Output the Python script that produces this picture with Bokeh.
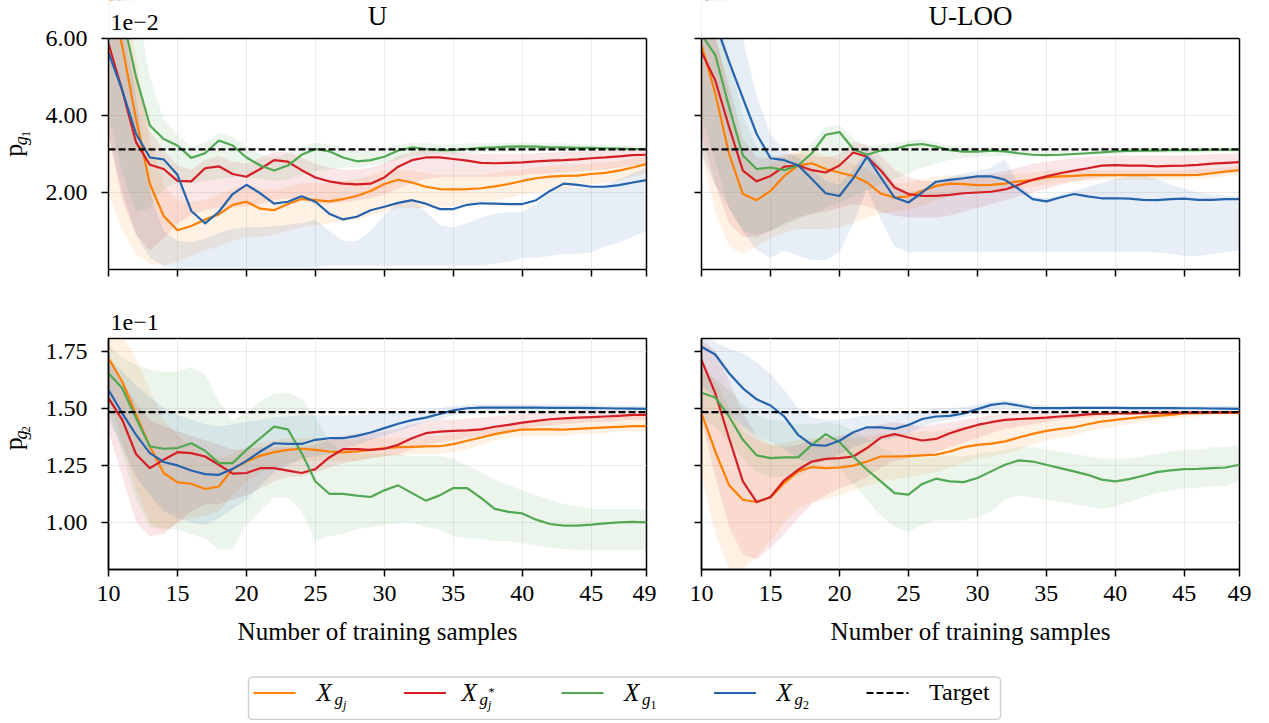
import math
from bokeh.plotting import figure
from bokeh.layouts import column, row
from bokeh.models import Range1d, FixedTicker, Span, BoxAnnotation, Label, LinearAxis
from bokeh.core.properties import value
from bokeh.embed import file_html
from bokeh.resources import INLINE

# ---------------- data (values shown in plot units: top x1e-2, bottom x1e-1) ----------------
samples = list(range(10, 50))
x_ticks = [10, 15, 20, 25, 30, 35, 40, 45, 49]
top_y_ticks = [2.0, 4.0, 6.0]
top_y_labels = ["2.00", "4.00", "6.00"]
bot_y_ticks = [1.0, 1.25, 1.5, 1.75]
bot_y_labels = ["1.00", "1.25", "1.50", "1.75"]
target_pg1 = 3.12
target_pg2 = 1.483
col_titles = ["U", "U-LOO"]
x_label = "Number of training samples"

# ---- p_g1, U ----
o_tl = [7.2, 5.8, 3.9, 2.22, 1.39, 1.02, 1.13, 1.30, 1.43, 1.68, 1.76, 1.58, 1.54, 1.70, 1.83, 1.80, 1.77, 1.83, 1.91, 2.04,
        2.22, 2.33, 2.26, 2.15, 2.09, 2.08, 2.09, 2.11, 2.16, 2.22, 2.30, 2.37, 2.41, 2.43, 2.44, 2.48, 2.51, 2.57, 2.65, 2.74]
o_tl_lo = [2.0, 1.0, 0.4, 0.15, 0.1, 0.2, 0.35, 0.5, 0.6, 0.75, 0.85, 0.85, 0.9, 1.0, 1.1, 1.15, 1.2, 1.25, 1.3, 1.4,
           1.5, 1.6, 1.6, 1.6, 1.6, 1.65, 1.7, 1.75, 1.8, 1.85, 1.95, 2.0, 2.05, 2.1, 2.15, 2.2, 2.25, 2.3, 2.4, 2.5]
o_tl_hi = [9.0, 7.5, 5.5, 3.3, 2.2, 1.8, 1.75, 1.8, 1.95, 2.1, 2.2, 2.1, 2.05, 2.15, 2.25, 2.25, 2.25, 2.3, 2.35, 2.45,
           2.55, 2.6, 2.55, 2.5, 2.45, 2.45, 2.45, 2.45, 2.5, 2.55, 2.6, 2.65, 2.7, 2.7, 2.72, 2.75, 2.78, 2.82, 2.88, 2.95]
r_tl = [5.87, 4.65, 3.30, 2.72, 2.61, 2.30, 2.29, 2.63, 2.68, 2.48, 2.41, 2.61, 2.84, 2.80, 2.58, 2.39, 2.29, 2.23, 2.21, 2.23,
        2.39, 2.67, 2.84, 2.91, 2.91, 2.87, 2.83, 2.77, 2.76, 2.77, 2.78, 2.81, 2.83, 2.84, 2.86, 2.89, 2.91, 2.94, 2.97, 2.98]
r_tl_lo = [3.5, 1.8, 0.9, 0.5, 0.8, 1.2, 1.4, 1.55, 1.6, 1.6, 1.65, 1.7, 1.8, 1.85, 1.8, 1.7, 1.7, 1.75, 1.8, 1.85,
           1.95, 2.1, 2.25, 2.35, 2.4, 2.4, 2.4, 2.4, 2.4, 2.42, 2.45, 2.48, 2.5, 2.52, 2.55, 2.58, 2.6, 2.65, 2.7, 2.75]
r_tl_hi = [7.5, 6.5, 5.0, 3.6, 3.1, 2.7, 2.6, 2.85, 2.95, 2.8, 2.75, 2.9, 3.05, 3.05, 2.9, 2.75, 2.65, 2.6, 2.6, 2.65,
           2.75, 2.95, 3.05, 3.1, 3.1, 3.05, 3.02, 3.0, 3.0, 3.0, 3.0, 3.02, 3.04, 3.05, 3.06, 3.08, 3.1, 3.11, 3.12, 3.12]
g_tl = [8.5, 6.6, 5.0, 3.74, 3.39, 3.22, 2.90, 3.02, 3.35, 3.22, 2.91, 2.70, 2.57, 2.70, 2.98, 3.13, 3.07, 2.91, 2.81, 2.84,
        2.93, 3.09, 3.17, 3.13, 3.10, 3.10, 3.13, 3.16, 3.17, 3.19, 3.20, 3.19, 3.17, 3.17, 3.16, 3.16, 3.15, 3.14, 3.13, 3.13]
g_tl_lo = [4.0, 2.5, 1.5, 1.6, 2.1, 2.25, 2.25, 2.3, 2.35, 2.4, 2.4, 2.35, 2.3, 2.35, 2.45, 2.55, 2.6, 2.65, 2.65, 2.7,
           2.75, 2.85, 2.95, 2.98, 3.0, 3.0, 3.02, 3.04, 3.05, 3.06, 3.07, 3.07, 3.07, 3.07, 3.07, 3.07, 3.07, 3.07, 3.08, 3.08]
g_tl_hi = [9.5, 8.5, 7.0, 5.0, 3.9, 3.5, 3.2, 3.3, 3.55, 3.45, 3.2, 3.0, 2.9, 3.0, 3.2, 3.3, 3.25, 3.15, 3.1, 3.1,
           3.15, 3.25, 3.3, 3.28, 3.25, 3.25, 3.27, 3.28, 3.28, 3.29, 3.3, 3.29, 3.28, 3.27, 3.26, 3.25, 3.24, 3.23, 3.22, 3.22]
b_tl = [5.63, 4.65, 3.52, 2.91, 2.86, 2.46, 1.52, 1.20, 1.50, 1.96, 2.20, 1.98, 1.71, 1.76, 1.90, 1.76, 1.45, 1.30, 1.37, 1.54,
        1.63, 1.73, 1.80, 1.71, 1.57, 1.57, 1.68, 1.72, 1.71, 1.70, 1.70, 1.80, 2.04, 2.23, 2.20, 2.15, 2.15, 2.19, 2.26, 2.32]
b_tl_lo = [3.5, 2.0, 0.9, 0.3, 0.1, 0.05, 0.05, 0.05, 0.05, 0.05, 0.05, 0.05, 0.05, 0.05, 0.05, 0.08, 0.1, 0.1, 0.1, 0.1,
           0.1, 0.1, 0.1, 0.1, 0.1, 0.1, 0.1, 0.1, 0.15, 0.2, 0.3, 0.3, 0.35, 0.4, 0.4, 0.45, 0.6, 0.7, 0.85, 1.0]
b_tl_hi = [7.5, 6.5, 4.5, 2.0, 1.0, 0.75, 0.7, 0.8, 0.95, 1.05, 1.1, 1.1, 1.12, 1.17, 1.2, 1.3, 1.0, 0.74, 0.74, 1.0,
           1.4, 1.75, 1.83, 1.5, 1.15, 1.09, 1.2, 1.35, 1.45, 1.5, 1.48, 1.7, 2.04, 2.13, 2.13, 2.13, 2.2, 2.35, 2.5, 2.65]

# ---- p_g1, U-LOO ----
o_tr = [5.83, 4.57, 3.0, 1.96, 1.80, 2.04, 2.43, 2.70, 2.76, 2.61, 2.52, 2.43, 2.26, 1.97, 1.87, 1.90, 2.04, 2.17, 2.23, 2.22,
        2.19, 2.20, 2.23, 2.29, 2.32, 2.39, 2.42, 2.43, 2.45, 2.45, 2.45, 2.45, 2.45, 2.45, 2.45, 2.45, 2.46, 2.50, 2.54, 2.58]
o_tr_lo = [3.0, 1.5, 0.6, 0.4, 0.6, 0.8, 0.95, 1.05, 1.05, 1.05, 1.1, 1.2, 1.35, 1.45, 1.5, 1.55, 1.65, 1.8, 1.9, 1.95,
           2.0, 2.02, 2.05, 2.1, 2.15, 2.2, 2.25, 2.28, 2.3, 2.32, 2.32, 2.33, 2.33, 2.33, 2.33, 2.33, 2.35, 2.38, 2.42, 2.46]
o_tr_hi = [7.5, 6.2, 4.5, 3.0, 2.6, 2.7, 2.95, 3.1, 3.1, 2.95, 2.85, 2.75, 2.6, 2.35, 2.25, 2.25, 2.35, 2.42, 2.45, 2.45,
           2.42, 2.42, 2.45, 2.5, 2.52, 2.56, 2.58, 2.58, 2.58, 2.58, 2.58, 2.58, 2.58, 2.58, 2.58, 2.58, 2.6, 2.62, 2.65, 2.7]
r_tr = [5.65, 4.91, 3.70, 2.57, 2.29, 2.43, 2.67, 2.70, 2.58, 2.52, 2.70, 3.04, 2.93, 2.57, 2.13, 1.96, 1.91, 1.91, 1.94, 1.98,
        2.00, 2.02, 2.08, 2.20, 2.33, 2.42, 2.50, 2.57, 2.63, 2.70, 2.71, 2.70, 2.70, 2.68, 2.69, 2.70, 2.72, 2.75, 2.77, 2.79]
r_tr_lo = [3.5, 2.2, 1.2, 0.85, 0.85, 1.0, 1.2, 1.35, 1.45, 1.5, 1.6, 1.7, 1.65, 1.5, 1.4, 1.35, 1.35, 1.35, 1.4, 1.5,
           1.6, 1.7, 1.8, 1.9, 2.0, 2.1, 2.2, 2.3, 2.35, 2.4, 2.42, 2.43, 2.44, 2.45, 2.46, 2.48, 2.5, 2.52, 2.55, 2.58]
r_tr_hi = [7.0, 6.0, 4.8, 3.4, 2.9, 2.9, 3.0, 3.0, 2.95, 2.9, 3.0, 3.3, 3.25, 2.95, 2.6, 2.4, 2.3, 2.3, 2.35, 2.4,
           2.45, 2.5, 2.55, 2.65, 2.75, 2.8, 2.85, 2.9, 2.93, 2.95, 2.96, 2.96, 2.96, 2.96, 2.96, 2.97, 2.98, 3.0, 3.0, 3.02]
g_tr = [6.1, 5.57, 4.22, 2.96, 2.61, 2.65, 2.58, 2.70, 3.02, 3.50, 3.57, 3.13, 2.98, 3.09, 3.13, 3.23, 3.26, 3.19, 3.10, 3.06,
        3.06, 3.09, 3.07, 3.02, 2.98, 2.97, 2.98, 3.00, 3.02, 3.04, 3.07, 3.08, 3.09, 3.09, 3.10, 3.10, 3.10, 3.11, 3.11, 3.11]
g_tr_lo = [4.0, 2.8, 1.6, 1.0, 0.9, 1.0, 1.15, 1.3, 1.45, 1.6, 1.75, 1.9, 2.05, 2.2, 2.35, 2.5, 2.65, 2.75, 2.85, 2.9,
           2.92, 2.94, 2.95, 2.95, 2.95, 2.95, 2.96, 2.97, 2.98, 2.99, 3.0, 3.01, 3.02, 3.02, 3.03, 3.03, 3.04, 3.04, 3.05, 3.05]
g_tr_hi = [8.0, 7.0, 5.5, 4.0, 3.2, 3.0, 2.9, 3.0, 3.3, 3.7, 3.75, 3.4, 3.2, 3.25, 3.28, 3.35, 3.38, 3.3, 3.22, 3.18,
           3.17, 3.18, 3.17, 3.14, 3.12, 3.12, 3.12, 3.13, 3.14, 3.15, 3.16, 3.16, 3.16, 3.16, 3.16, 3.16, 3.16, 3.16, 3.16, 3.16]
b_tr = [7.4, 6.4, 5.4, 4.45, 3.52, 2.89, 2.84, 2.71, 2.35, 1.98, 1.91, 2.37, 2.93, 2.39, 1.87, 1.74, 2.00, 2.28, 2.33, 2.37,
        2.42, 2.42, 2.33, 2.09, 1.83, 1.77, 1.87, 1.96, 1.90, 1.85, 1.85, 1.84, 1.81, 1.80, 1.83, 1.84, 1.81, 1.81, 1.83, 1.83]
b_tr_lo = [3.0, 2.2, 1.6, 1.0, 0.5, 0.3, 0.5, 0.35, 0.25, 0.25, 0.45, 1.2, 2.1, 1.3, 0.6, 0.45, 0.45, 0.45, 0.45, 0.45,
           0.45, 0.45, 0.45, 0.45, 0.45, 0.45, 0.45, 0.45, 0.45, 0.45, 0.45, 0.45, 0.45, 0.45, 0.4, 0.35, 0.35, 0.4, 0.45, 0.5]
b_tr_hi = [9.0, 8.0, 7.0, 6.0, 4.5, 3.5, 3.1, 2.9, 2.6, 2.3, 2.2, 2.6, 3.1, 2.7, 2.2, 2.0, 2.1, 2.3, 2.4, 2.5,
           2.55, 2.65, 2.87, 2.2, 1.9, 1.85, 1.95, 2.05, 2.15, 2.25, 2.35, 2.42, 2.45, 2.35, 2.2, 2.1, 2.0, 1.95, 1.92, 1.9]

# ---- p_g2, U ----
o_bl = [1.718, 1.616, 1.471, 1.333, 1.217, 1.176, 1.170, 1.147, 1.158, 1.235, 1.267, 1.292, 1.308, 1.318, 1.323, 1.318, 1.311, 1.307, 1.311, 1.318,
        1.326, 1.330, 1.331, 1.333, 1.334, 1.343, 1.358, 1.372, 1.387, 1.398, 1.407, 1.408, 1.408, 1.407, 1.410, 1.413, 1.416, 1.419, 1.422, 1.422]
o_bl_lo = [1.55, 1.35, 1.15, 1.0, 0.96, 1.0, 1.02, 1.03, 1.05, 1.12, 1.18, 1.22, 1.24, 1.26, 1.27, 1.27, 1.27, 1.27, 1.27, 1.28,
           1.29, 1.29, 1.30, 1.30, 1.30, 1.31, 1.32, 1.34, 1.36, 1.37, 1.38, 1.38, 1.38, 1.38, 1.39, 1.39, 1.39, 1.40, 1.40, 1.40]
o_bl_hi = [1.85, 1.82, 1.72, 1.58, 1.45, 1.38, 1.34, 1.3, 1.28, 1.3, 1.33, 1.35, 1.36, 1.37, 1.37, 1.37, 1.36, 1.36, 1.36, 1.37,
           1.37, 1.37, 1.37, 1.38, 1.38, 1.39, 1.40, 1.41, 1.42, 1.43, 1.44, 1.445, 1.45, 1.45, 1.455, 1.46, 1.46, 1.465, 1.47, 1.47]
r_bl = [1.544, 1.449, 1.299, 1.238, 1.275, 1.308, 1.304, 1.289, 1.253, 1.214, 1.217, 1.238, 1.238, 1.227, 1.217, 1.234, 1.285, 1.321, 1.321, 1.318,
        1.323, 1.340, 1.369, 1.391, 1.398, 1.401, 1.403, 1.408, 1.419, 1.427, 1.437, 1.445, 1.452, 1.456, 1.459, 1.461, 1.464, 1.467, 1.471, 1.471]
r_bl_lo = [1.4, 1.2, 1.0, 0.94, 0.95, 1.0, 1.05, 1.08, 1.08, 1.1, 1.12, 1.15, 1.18, 1.2, 1.2, 1.22, 1.24, 1.26, 1.27, 1.28,
           1.29, 1.30, 1.32, 1.34, 1.35, 1.36, 1.37, 1.38, 1.39, 1.40, 1.41, 1.42, 1.425, 1.43, 1.435, 1.44, 1.44, 1.445, 1.45, 1.45]
r_bl_hi = [1.70, 1.62, 1.52, 1.45, 1.42, 1.40, 1.38, 1.36, 1.34, 1.32, 1.32, 1.33, 1.33, 1.33, 1.33, 1.34, 1.36, 1.38, 1.39, 1.39,
           1.40, 1.41, 1.43, 1.44, 1.45, 1.45, 1.455, 1.46, 1.465, 1.47, 1.475, 1.48, 1.485, 1.485, 1.49, 1.49, 1.49, 1.49, 1.49, 1.49]
g_bl = [1.653, 1.587, 1.456, 1.333, 1.323, 1.326, 1.347, 1.314, 1.260, 1.260, 1.318, 1.369, 1.420, 1.408, 1.304, 1.180, 1.126, 1.126, 1.118, 1.112,
        1.141, 1.163, 1.129, 1.096, 1.119, 1.151, 1.151, 1.108, 1.060, 1.047, 1.040, 1.013, 0.994, 0.987, 0.987, 0.991, 0.997, 1.001, 1.003, 1.001]
g_bl_lo = [1.5, 1.3, 1.1, 0.98, 0.975, 0.97, 0.95, 0.93, 0.88, 0.885, 0.99, 1.05, 1.11, 1.11, 1.05, 0.92, 0.94, 0.95, 0.97, 0.98,
           0.99, 1.0, 1.0, 0.98, 0.97, 0.94, 0.93, 0.93, 0.92, 0.92, 0.91, 0.9, 0.89, 0.885, 0.88, 0.88, 0.88, 0.88, 0.88, 0.88]
g_bl_hi = [1.78, 1.72, 1.69, 1.67, 1.66, 1.66, 1.68, 1.65, 1.53, 1.45, 1.48, 1.53, 1.565, 1.57, 1.54, 1.46, 1.355, 1.31, 1.30, 1.30,
           1.30, 1.30, 1.29, 1.29, 1.29, 1.28, 1.25, 1.22, 1.19, 1.165, 1.14, 1.12, 1.10, 1.08, 1.07, 1.06, 1.06, 1.06, 1.06, 1.06]
b_bl = [1.580, 1.478, 1.384, 1.304, 1.265, 1.250, 1.228, 1.212, 1.209, 1.235, 1.270, 1.311, 1.347, 1.344, 1.344, 1.362, 1.369, 1.369, 1.379, 1.394,
        1.413, 1.432, 1.448, 1.459, 1.475, 1.491, 1.500, 1.503, 1.503, 1.503, 1.503, 1.503, 1.502, 1.502, 1.502, 1.501, 1.500, 1.499, 1.498, 1.497]
b_bl_lo = [1.45, 1.33, 1.2, 1.12, 1.05, 1.02, 1.0, 0.99, 1.02, 1.06, 1.1, 1.16, 1.22, 1.25, 1.28, 1.29, 1.3, 1.32, 1.34, 1.36,
           1.38, 1.4, 1.42, 1.44, 1.45, 1.47, 1.48, 1.485, 1.485, 1.485, 1.485, 1.486, 1.486, 1.486, 1.486, 1.486, 1.486, 1.486, 1.486, 1.486]
b_bl_hi = [1.72, 1.66, 1.6, 1.55, 1.5, 1.47, 1.45, 1.43, 1.42, 1.43, 1.44, 1.45, 1.46, 1.465, 1.47, 1.47, 1.47, 1.47, 1.47, 1.475,
           1.48, 1.485, 1.49, 1.495, 1.5, 1.51, 1.515, 1.518, 1.518, 1.518, 1.518, 1.517, 1.517, 1.516, 1.515, 1.514, 1.513, 1.512, 1.511, 1.51]

# ---- p_g2, U-LOO ----
o_br = [1.478, 1.311, 1.163, 1.100, 1.090, 1.110, 1.173, 1.224, 1.243, 1.238, 1.241, 1.249, 1.267, 1.289, 1.289, 1.291, 1.294, 1.297, 1.311, 1.330,
        1.340, 1.345, 1.355, 1.372, 1.388, 1.401, 1.410, 1.417, 1.430, 1.442, 1.449, 1.456, 1.462, 1.467, 1.471, 1.477, 1.479, 1.480, 1.480, 1.480]
o_br_lo = [1.2, 0.95, 0.80, 0.80, 0.85, 0.92, 1.0, 1.06, 1.09, 1.1, 1.12, 1.14, 1.16, 1.18, 1.19, 1.2, 1.21, 1.22, 1.24, 1.26,
           1.28, 1.29, 1.3, 1.32, 1.34, 1.36, 1.37, 1.38, 1.4, 1.41, 1.42, 1.43, 1.44, 1.45, 1.455, 1.46, 1.465, 1.47, 1.47, 1.47]
o_br_hi = [1.70, 1.62, 1.50, 1.40, 1.36, 1.34, 1.35, 1.36, 1.37, 1.37, 1.37, 1.37, 1.38, 1.39, 1.39, 1.39, 1.4, 1.4, 1.41, 1.42,
           1.43, 1.435, 1.44, 1.45, 1.46, 1.465, 1.47, 1.475, 1.48, 1.485, 1.487, 1.488, 1.489, 1.49, 1.49, 1.49, 1.49, 1.49, 1.49, 1.49]
r_br = [1.711, 1.565, 1.369, 1.180, 1.090, 1.112, 1.185, 1.231, 1.267, 1.279, 1.282, 1.289, 1.326, 1.372, 1.387, 1.372, 1.359, 1.366, 1.391, 1.410,
        1.427, 1.439, 1.449, 1.453, 1.456, 1.459, 1.464, 1.468, 1.473, 1.476, 1.477, 1.478, 1.479, 1.479, 1.480, 1.481, 1.481, 1.482, 1.482, 1.483]
r_br_lo = [1.45, 1.2, 0.98, 0.86, 0.84, 0.89, 0.95, 1.02, 1.08, 1.12, 1.15, 1.17, 1.2, 1.24, 1.27, 1.28, 1.29, 1.31, 1.33, 1.35,
           1.37, 1.39, 1.41, 1.42, 1.43, 1.44, 1.45, 1.455, 1.46, 1.465, 1.47, 1.47, 1.475, 1.475, 1.477, 1.478, 1.479, 1.48, 1.48, 1.48]
r_br_hi = [1.80, 1.75, 1.62, 1.48, 1.38, 1.34, 1.33, 1.34, 1.36, 1.37, 1.38, 1.39, 1.41, 1.43, 1.44, 1.43, 1.42, 1.43, 1.44, 1.45,
           1.46, 1.47, 1.475, 1.48, 1.48, 1.482, 1.484, 1.485, 1.486, 1.487, 1.487, 1.487, 1.487, 1.487, 1.487, 1.487, 1.487, 1.487, 1.487, 1.487]
g_br = [1.568, 1.547, 1.464, 1.362, 1.294, 1.282, 1.285, 1.285, 1.340, 1.387, 1.352, 1.289, 1.231, 1.180, 1.129, 1.122, 1.169, 1.192, 1.180, 1.177,
        1.195, 1.224, 1.253, 1.272, 1.267, 1.253, 1.238, 1.224, 1.209, 1.188, 1.180, 1.190, 1.205, 1.221, 1.228, 1.234, 1.235, 1.238, 1.241, 1.253]
g_br_lo = [1.45, 1.42, 1.35, 1.28, 1.22, 1.20, 1.20, 1.20, 1.24, 1.27, 1.24, 1.17, 1.10, 1.03, 0.98, 0.96, 0.99, 1.01, 1.01, 1.01,
           1.02, 1.05, 1.10, 1.12, 1.11, 1.10, 1.09, 1.08, 1.07, 1.06, 1.07, 1.09, 1.11, 1.13, 1.14, 1.15, 1.15, 1.16, 1.16, 1.18]
g_br_hi = [1.66, 1.63, 1.58, 1.52, 1.47, 1.45, 1.44, 1.43, 1.43, 1.44, 1.43, 1.40, 1.37, 1.33, 1.30, 1.28, 1.28, 1.29, 1.29, 1.29,
           1.30, 1.31, 1.32, 1.33, 1.33, 1.32, 1.31, 1.30, 1.29, 1.28, 1.28, 1.28, 1.29, 1.30, 1.31, 1.32, 1.32, 1.33, 1.33, 1.34]
b_br = [1.769, 1.735, 1.653, 1.587, 1.539, 1.512, 1.464, 1.384, 1.340, 1.336, 1.358, 1.395, 1.417, 1.416, 1.410, 1.427, 1.453, 1.464, 1.467, 1.477,
        1.496, 1.515, 1.522, 1.512, 1.501, 1.501, 1.501, 1.502, 1.502, 1.502, 1.502, 1.501, 1.501, 1.501, 1.501, 1.500, 1.500, 1.499, 1.498, 1.497]
b_br_lo = [1.60, 1.55, 1.47, 1.42, 1.38, 1.35, 1.32, 1.28, 1.26, 1.27, 1.30, 1.33, 1.35, 1.36, 1.37, 1.39, 1.42, 1.44, 1.45, 1.46,
           1.475, 1.49, 1.5, 1.495, 1.49, 1.49, 1.49, 1.49, 1.49, 1.49, 1.49, 1.49, 1.49, 1.49, 1.49, 1.49, 1.49, 1.49, 1.49, 1.49]
b_br_hi = [1.82, 1.79, 1.76, 1.74, 1.70, 1.65, 1.58, 1.50, 1.46, 1.45, 1.45, 1.46, 1.47, 1.47, 1.47, 1.48, 1.49, 1.5, 1.5, 1.505,
           1.515, 1.53, 1.535, 1.525, 1.515, 1.512, 1.51, 1.51, 1.51, 1.51, 1.51, 1.51, 1.51, 1.51, 1.51, 1.51, 1.51, 1.51, 1.51, 1.51]

# ---------------- styling / layout constants ----------------
FONT = "Liberation Serif"
C_OR, C_RD, C_GR, C_BL = "#ff7f00", "#d51e24", "#52a852", "#2563ad"
TICK_PX = "24px"
FRAME_W, FRAME_H = 538, 231
TOP_PAD = 38          # space above the top panels' axes box, kept inside their frame
YSTRIP_W = 36
TOTAL_W = 1259
MID = 0.34            # em distance from a 'middle' text anchor down to its baseline

top_rng = (0.0, 6.0)
bot_rng = (0.795, 1.805)


def style_axis(ax):
    ax.axis_line_color = "black"
    ax.axis_line_width = 1.5
    ax.major_tick_line_color = "black"
    ax.major_tick_line_width = 1.5
    ax.major_tick_out = 7
    ax.major_tick_in = 0
    ax.minor_tick_line_color = None
    ax.major_label_text_font = FONT
    ax.major_label_text_font_size = TICK_PX
    ax.major_label_text_color = "black"


def make_panel(left_panel, top_row, y_rng, yt, ylab, target, series):
    mb_l, mb_r = (108 - YSTRIP_W, 10) if left_panel else (45, 20)
    mb_b = 20 if top_row else 40
    mb_t = 0 if top_row else 2
    frame_h = FRAME_H + (TOP_PAD if top_row else 0)
    y_end = y_rng[1] + (y_rng[1] - y_rng[0]) * TOP_PAD / FRAME_H if top_row else y_rng[1]
    p = figure(width=mb_l + FRAME_W + mb_r, height=mb_t + frame_h + mb_b,
               x_range=Range1d(10, 49), y_range=Range1d(y_rng[0], y_end),
               output_backend="svg", toolbar_location=None,
               min_border_left=mb_l, min_border_right=mb_r,
               min_border_top=mb_t, min_border_bottom=mb_b)
    p.background_fill_color = "white"
    p.border_fill_color = "white"
    p.xaxis.ticker = FixedTicker(ticks=x_ticks)
    p.yaxis.ticker = FixedTicker(ticks=yt)
    p.xgrid.ticker = FixedTicker(ticks=x_ticks)
    p.ygrid.ticker = FixedTicker(ticks=yt)
    p.grid.grid_line_color = "#ebebeb"
    p.grid.grid_line_width = 1
    style_axis(p.xaxis[0])
    style_axis(p.yaxis[0])
    p.xaxis.major_label_standoff = 9
    p.yaxis.major_label_standoff = 14
    if top_row:
        p.xaxis.major_label_overrides = {t: "" for t in x_ticks}
    if left_panel:
        p.yaxis.major_label_overrides = {t: l for t, l in zip(yt, ylab)}
    else:
        p.yaxis.major_label_overrides = {t: "" for t in yt}

    for (c, line, lo, hi) in series:
        p.varea(x=samples, y1=lo, y2=hi, fill_color=c, fill_alpha=0.11)
    for (c, line, lo, hi) in series:
        p.line(x=samples, y=line, line_color=c, line_width=2.2, line_join="round")

    if top_row:
        # the axes box ends at the top of the value range; blank the strip above it
        # with an opaque white block drawn after (on top of) the data glyphs
        p.quad(left=[10], right=[49], bottom=[y_rng[1]], top=[y_end],
               fill_color="white", fill_alpha=1.0, line_color=None)
        p.outline_line_color = None
        p.yaxis.bounds = y_rng
        p.add_layout(Span(location=y_rng[1], dimension="width", line_color="black",
                          line_width=1.5))
        right = LinearAxis(ticker=FixedTicker(ticks=[]), bounds=y_rng,
                           axis_line_color="black", axis_line_width=1.5,
                           major_tick_line_color=None, minor_tick_line_color=None)
        p.add_layout(right, "right")
    else:
        p.outline_line_color = "black"
        p.outline_line_width = 1.5
    p.add_layout(Span(location=target, dimension="width", line_color="black",
                      line_dash="7 3", line_width=2.2))
    return p


def panel_text(p, y_rng, frame_left, px, baseline_py, text, size, align="left"):
    """Text in the blank strip above a top panel; px/baseline_py are page pixels."""
    x = 10 + (px - frame_left) / FRAME_W * 39
    anchor = baseline_py - MID * size
    y = y_rng[1] + (TOP_PAD - anchor) / FRAME_H * (y_rng[1] - y_rng[0])
    p.add_layout(Label(x=x, y=y, text=text, text_font=FONT, text_font_size=f"{size}px",
                       text_align=align, text_baseline="middle", text_color="black"))


class Strip:
    """A blank figure whose data coordinates equal page pixels."""
    def __init__(self, w, h, page_left, page_top):
        self.fig = figure(width=w, height=h, x_range=Range1d(0, w), y_range=Range1d(0, h),
                          x_axis_type=None, y_axis_type=None, output_backend="svg",
                          toolbar_location=None, min_border=0)
        self.fig.outline_line_color = None
        self.fig.background_fill_color = "white"
        self.fig.border_fill_color = "white"
        self.l, self.t, self.h = page_left, page_top, h

    def X(self, px):
        return px - self.l

    def Y(self, py):
        return self.t + self.h - py

    def text(self, px, baseline_py, text, size, align="left", style="normal"):
        self.fig.text(x=[self.X(px)], y=[self.Y(baseline_py - MID * size)], text=[text],
                      text_font=value(FONT), text_font_size=value(f"{size}px"),
                      text_align=align, text_baseline="middle", text_color="black",
                      text_font_style=style)

    def vtext(self, baseline_px, start_py, text, size, style="normal"):
        self.fig.text(x=[self.X(baseline_px - MID * size)], y=[self.Y(start_py)], text=[text],
                      text_font=value(FONT), text_font_size=value(f"{size}px"),
                      text_align="left", text_baseline="middle", angle=math.pi / 2,
                      text_color="black", text_font_style=style)


tl = make_panel(True, True, top_rng, top_y_ticks, top_y_labels, target_pg1,
                [(C_OR, o_tl, o_tl_lo, o_tl_hi), (C_RD, r_tl, r_tl_lo, r_tl_hi),
                 (C_GR, g_tl, g_tl_lo, g_tl_hi), (C_BL, b_tl, b_tl_lo, b_tl_hi)])
tr = make_panel(False, True, top_rng, top_y_ticks, top_y_labels, target_pg1,
                [(C_OR, o_tr, o_tr_lo, o_tr_hi), (C_RD, r_tr, r_tr_lo, r_tr_hi),
                 (C_GR, g_tr, g_tr_lo, g_tr_hi), (C_BL, b_tr, b_tr_lo, b_tr_hi)])
bl = make_panel(True, False, bot_rng, bot_y_ticks, bot_y_labels, target_pg2,
                [(C_OR, o_bl, o_bl_lo, o_bl_hi), (C_RD, r_bl, r_bl_lo, r_bl_hi),
                 (C_GR, g_bl, g_bl_lo, g_bl_hi), (C_BL, b_bl, b_bl_lo, b_bl_hi)])
br = make_panel(False, False, bot_rng, bot_y_ticks, bot_y_labels, target_pg2,
                [(C_OR, o_br, o_br_lo, o_br_hi), (C_RD, r_br, r_br_lo, r_br_hi),
                 (C_GR, g_br, g_br_lo, g_br_hi), (C_BL, b_br, b_br_lo, b_br_hi)])

# column titles and offset text (inside the blank strip above the top panels)
panel_text(tl, top_rng, 108, 377, 25, col_titles[0], 27, align="center")
panel_text(tr, top_rng, 701, 970, 25, col_titles[1], 27, align="center")
panel_text(tl, top_rng, 108, 110, 30, "1e\u22122", 24)

# ---- y-label strips ----
ys_top = Strip(YSTRIP_W, 289, 0, 0)
ys_top.vtext(22, 168, "p", 26)
ys_top.vtext(26.5, 155.5, "g", 18, style="italic")
ys_top.vtext(29.5, 147, "1", 13)
ys_bot = Strip(YSTRIP_W, 273, 0, 336)
ys_bot.vtext(22, 468, "p", 26)
ys_bot.vtext(26.5, 455.5, "g", 18, style="italic")
ys_bot.vtext(29.5, 447, "2", 13)

# ---- gap strip (page y 289..336) ----
gs = Strip(TOTAL_W, 47, 0, 289)
gs.text(110, 330, "1e\u22121", 24)

# ---- bottom strip: x labels + legend (page y 609..720) ----
BH = 111
bs = Strip(TOTAL_W, BH, 0, 609)
bs.text(377, 639, x_label, 25, align="center")
bs.text(970, 639, x_label, 25, align="center")
bs.fig.add_layout(BoxAnnotation(left=248, right=1000, bottom=bs.Y(719), top=bs.Y(676.5),
                                fill_color="white", fill_alpha=1.0, line_color="#d0d0d0",
                                line_width=1.5, line_alpha=1.0, border_radius=4, level="underlay"))
legend_colors = [C_OR, C_RD, C_GR, C_BL]
legend_starts = [253, 403.5, 561, 713.5]
legend_text_x = [316, 461, 623.5, 776]
legend_sub2 = ["j", "j", "1", "2"]
sub_style = ["italic", "italic", "normal", "normal"]
line_py = 692.5
base = 700
for c, s in zip(legend_colors, legend_starts):
    bs.fig.line(x=[s, s + 42], y=[bs.Y(line_py)] * 2, line_color=c, line_width=2.2)
bs.fig.line(x=[866, 908], y=[bs.Y(line_py)] * 2, line_color="black", line_width=2.2, line_dash="7 3")
for t, s2, st in zip(legend_text_x, legend_sub2, sub_style):
    bs.text(t, base, "X", 25, style="italic")
    bs.text(t + 18, base + 5, "g", 17, style="italic")
    bs.text(t + 26.5, base + 9, s2, 12, style=st)
bs.text(legend_text_x[1] + 27, base - 4, "*", 12)
bs.text(928.6, base, "Target", 24)

layout = column(row(ys_top.fig, tl, tr), gs.fig, row(ys_bot.fig, bl, br), bs.fig)
open("out.html", "w").write(file_html(layout, INLINE))
